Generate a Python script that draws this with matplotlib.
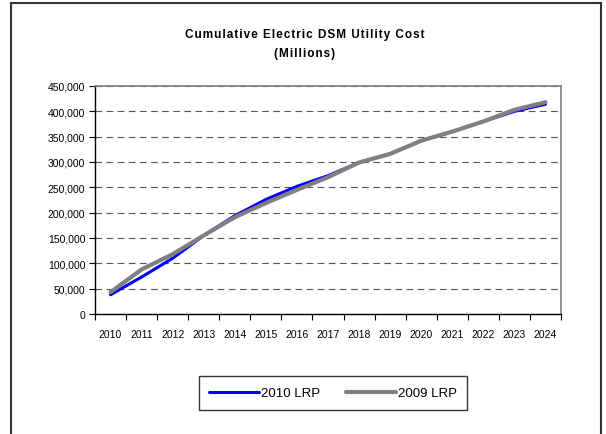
import numpy as np
import matplotlib.pyplot as plt
from matplotlib.patches import Rectangle
from matplotlib.ticker import FuncFormatter

plt.rcParams['font.family'] = ['Liberation Sans', 'DejaVu Sans']

years = ['2010', '2011', '2012', '2013', '2014', '2015', '2016', '2017',
         '2018', '2019', '2020', '2021', '2022', '2023', '2024']
# cumulative cost (millions)
lrp_2010 = [38000, 73000, 110000, 155000, 194000, 226000, 252000, 273000,
            299000, 316000, 342000, 360000, 380000, 400000, 414000]
lrp_2009 = [43000, 88000, 118000, 155000, 191000, 219000, 245000, 270000,
            299000, 316000, 342000, 360000, 380000, 403000, 418000]

W, H = 606, 435
fig = plt.figure(figsize=(W / 100, H / 100), dpi=100)

# outer chart border
fig.patches.append(Rectangle((11 / W, -0.02), 590 / W, 1.02 - 4 / H,
                             transform=fig.transFigure, fill=False,
                             edgecolor='#333333', linewidth=1.5))

ax = fig.add_axes([95 / W, 1 - 315 / H, 466 / W, 228 / H])
x = np.arange(len(years))
ax.plot(x, lrp_2010, color='#0000ff', linewidth=2.2, label='2010 LRP',
        solid_capstyle='round')
ax.plot(x, lrp_2009, color='#808080', linewidth=3.0, label='2009 LRP',
        solid_capstyle='round')

ax.set_xlim(-0.5, len(years) - 0.5)
ax.set_ylim(0, 450000)
ax.set_yticks(np.arange(0, 450001, 50000))
ax.yaxis.set_major_formatter(FuncFormatter(lambda v, p: f'{int(v):,}'))
ax.grid(axis='y', color='#555555', linestyle=(0, (6, 4)), linewidth=0.8)
ax.set_axisbelow(True)

ax.set_xticks(np.arange(-0.5, len(years), 1.0))
ax.set_xticklabels([])
ax.set_xticks(x, minor=True)
ax.set_xticklabels(years, minor=True)
ax.tick_params(axis='x', which='minor', length=0, pad=11, labelsize=7.5)
ax.tick_params(axis='x', which='major', length=4, width=0.8)
ax.tick_params(axis='y', length=4, width=0.8, labelsize=7.5, pad=3)

for s in ['top', 'right']:
    ax.spines[s].set_color('#808080')
    ax.spines[s].set_linewidth(1.2)
for s in ['left', 'bottom']:
    ax.spines[s].set_color('black')
    ax.spines[s].set_linewidth(1.0)

# the original title is letter-spaced
def spaced(s):
    return '\u200a'.join(s)

fig.text(305 / W, 1 - 35 / H, spaced('Cumulative Electric DSM Utility Cost'),
         ha='center', va='center', fontsize=8.5, fontweight='bold')
fig.text(305 / W, 1 - 54 / H, spaced('(Millions)'),
         ha='center', va='center', fontsize=8.5, fontweight='bold')

leg = fig.legend(loc='center', bbox_to_anchor=(333 / W, 1 - 394 / H), ncol=2,
                 fontsize=9.5, frameon=True, fancybox=False, handlelength=3.8,
                 handletextpad=0.1, columnspacing=2.0, borderpad=0.8)
leg.get_frame().set_edgecolor('black')
leg.get_frame().set_linewidth(1.0)

fig.savefig('out.png', dpi=100)
